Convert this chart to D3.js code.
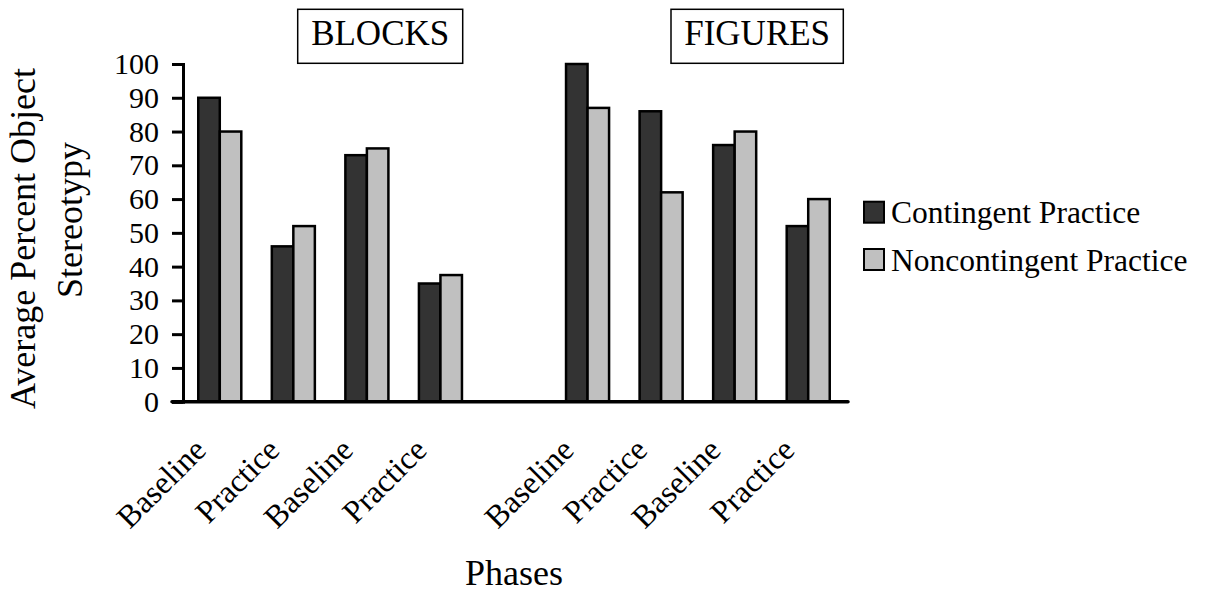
<!DOCTYPE html>
<html>
<head>
<meta charset="utf-8">
<script src="https://cdn.jsdelivr.net/npm/d3@7"></script>
<style>
  html, body { margin: 0; padding: 0; background: #fff; }
  svg { display: block; }
  text { font-family: "Liberation Serif", "Times New Roman", serif; fill: #000; }
</style>
</head>
<body>
<svg id="chart" width="1207" height="592"></svg>
<script>
// ---- Data ----
const categoryIds = ["b1", "b2", "b3", "b4", "gap", "f1", "f2", "f3", "f4"];
const categoryLabels = ["Baseline", "Practice", "Baseline", "Practice", "", "Baseline", "Practice", "Baseline", "Practice"];
const contingent = [90, 46, 73, 35, null, 100, 86, 76, 52];
const noncontingent = [80, 52, 75, 37.5, null, 87, 62, 80, 60];
const seriesNames = ["Contingent Practice", "Noncontingent Practice"];
const seriesColors = ["#333333", "#c0c0c0"];
const yTicks = [0, 10, 20, 30, 40, 50, 60, 70, 80, 90, 100];
const panelTitles = ["BLOCKS", "FIGURES"];
const yTitleLines = ["Average Percent Object", "Stereotypy"];
const xTitle = "Phases";

// ---- Layout ----
const svg = d3.select("#chart");
const x0 = 183, x1 = 845, axisEnd = 848;
const y0 = 401.7, yTop = 64;

const x = d3.scaleBand().domain(categoryIds).range([x0, x1]).paddingInner(0.415).paddingOuter(0.2075);
const xs = d3.scaleBand().domain(seriesNames).range([0, x.bandwidth()]);
const y = d3.scaleLinear().domain([0, 100]).range([y0, yTop]);

const rows = categoryIds.map((id, i) => ({ id, vals: [contingent[i], noncontingent[i]] }));

// bars
const g = svg.append("g");
rows.forEach(r => {
  r.vals.forEach((v, si) => {
    if (v == null) return;
    g.append("rect")
      .attr("x", x(r.id) + xs(seriesNames[si]))
      .attr("y", y(v))
      .attr("width", xs.bandwidth())
      .attr("height", y(0) - y(v))
      .attr("fill", seriesColors[si])
      .attr("stroke", "#000")
      .attr("stroke-width", 2.5);
  });
});

// y axis
const yAxis = d3.axisLeft(y).tickValues(yTicks).tickSize(11).tickPadding(13);
const ya = svg.append("g").attr("transform", `translate(${x0},0)`).call(yAxis);
ya.select(".domain").attr("stroke", "#000").attr("stroke-width", 3);
ya.selectAll(".tick line").attr("stroke", "#000").attr("stroke-width", 3);
ya.selectAll(".tick text").style("font-size", "30px").style("font-family", "'Liberation Serif', serif").attr("fill", "#000");

// x axis line
svg.append("line").attr("x1", x0 - 11).attr("x2", axisEnd).attr("y1", y0).attr("y2", y0)
  .attr("stroke", "#000").attr("stroke-width", 3.5).attr("stroke-linecap", "round");

// x labels
categoryIds.forEach((id, i) => {
  if (!categoryLabels[i]) return;
  const cx = x(id) + x.bandwidth() / 2 - 12;
  svg.append("text")
    .attr("transform", `translate(${cx},452) rotate(-45)`)
    .attr("text-anchor", "end")
    .style("font-size", "32px")
    .text(categoryLabels[i]);
});

// panel titles
const titleBoxes = [[297.7, 9.3, 165, 54], [671, 9.3, 172.3, 54]];
panelTitles.forEach((t, i) => {
  const [bx, by, bw, bh] = titleBoxes[i];
  svg.append("rect").attr("x", bx).attr("y", by).attr("width", bw).attr("height", bh)
    .attr("fill", "#fff").attr("stroke", "#000").attr("stroke-width", 1.5);
  svg.append("text").attr("x", bx + bw / 2).attr("y", 45).attr("text-anchor", "middle")
    .style("font-size", "35px").text(t);
});

// y title
const yTitlePos = [[35, 238.5], [81.7, 220]];
yTitleLines.forEach((t, i) => {
  svg.append("text")
    .attr("transform", `translate(${yTitlePos[i][0]},${yTitlePos[i][1]}) rotate(-90)`)
    .attr("text-anchor", "middle")
    .style("font-size", "36px")
    .text(t);
});

// x title
svg.append("text").attr("x", 514).attr("y", 585).attr("text-anchor", "middle")
  .style("font-size", "36px").text(xTitle);

// legend
const legY = [201.7, 249];
seriesNames.forEach((s, i) => {
  svg.append("rect").attr("x", 864).attr("y", legY[i]).attr("width", 20).attr("height", 21)
    .attr("fill", seriesColors[i]).attr("stroke", "#000").attr("stroke-width", 2);
  svg.append("text").attr("x", 891).attr("y", legY[i] + 21.5)
    .style("font-size", "31.5px").text(s);
});
</script>
</body>
</html>
